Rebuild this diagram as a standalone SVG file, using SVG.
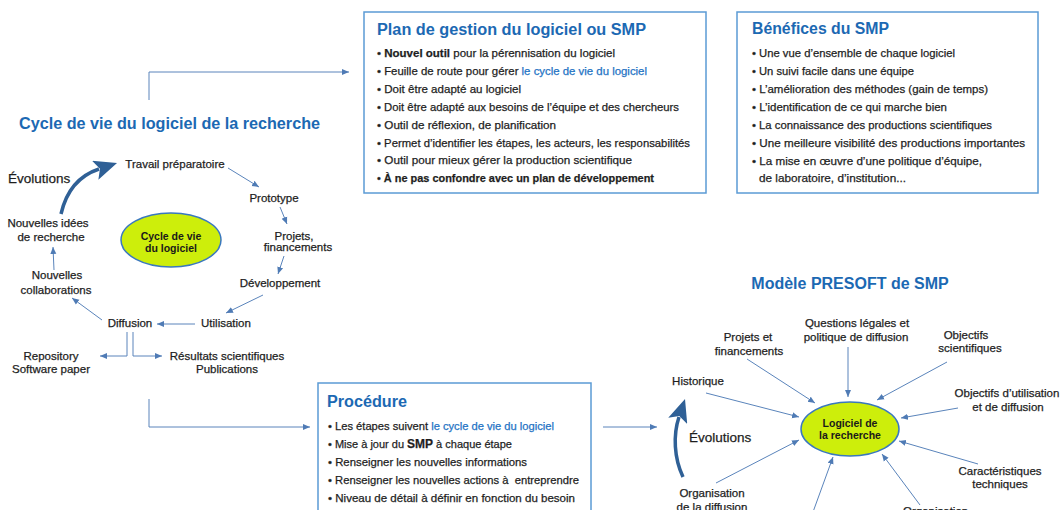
<svg xmlns="http://www.w3.org/2000/svg" width="1062" height="510" viewBox="0 0 1062 510">
<style>
text{font-family:"Liberation Sans",Arial,sans-serif;font-size:11.5px;fill:#1e1e1e;stroke:#1e1e1e;stroke-width:0.25}
.h{font-weight:bold;font-size:16px;fill:#1c69b3;stroke:none}
.m{text-anchor:middle}
.b{font-weight:bold}
.lnk{fill:#2473c4;stroke:#2473c4}
.evt{font-size:13.5px}
.et{font-weight:bold;font-size:10.5px;text-anchor:middle;fill:#1a1a1a;stroke:none}
.box{fill:#fff;stroke:#5b9bd5;stroke-width:1.5}
.con{fill:none;stroke:#5a84bb;stroke-width:1}
.evo{fill:none;stroke:#2f6096;stroke-width:3.5}
.ell{fill:#cdee0b;stroke:#3a78be;stroke-width:1.5}
</style>
<defs>
<marker id="a" markerUnits="userSpaceOnUse" markerWidth="8" markerHeight="8" refX="7" refY="3.5" orient="auto"><path d="M0,0.5 L7,3.5 L0,6.5 z" fill="#4f7bb5"/></marker>
<marker id="big" markerUnits="userSpaceOnUse" markerWidth="24" markerHeight="20" refX="4" refY="10" orient="auto"><path d="M0,0 L23,10 L0,20 L5,10 z" fill="#2f6096"/></marker>
</defs>
<rect width="1062" height="510" fill="#fff"/>

<g id="connectors">
<path class="con" d="M149,100 V72 H349" marker-end="url(#a)"/>
<path class="con" d="M149,399 V427 H310" marker-end="url(#a)"/>
<path class="con" d="M603,427 H657" marker-end="url(#a)"/>
<path class="con" d="M228,168 L259,187" marker-end="url(#a)"/>
<path class="con" d="M280,207 L287,224" marker-end="url(#a)"/>
<path class="con" d="M284,256 L278,274" marker-end="url(#a)"/>
<path class="con" d="M263,295 L226,313" marker-end="url(#a)"/>
<path class="con" d="M195,324 L157,324" marker-end="url(#a)"/>
<path class="con" d="M102,320 L72,298" marker-end="url(#a)"/>
<path class="con" d="M54,270 L53,247" marker-end="url(#a)"/>
<path class="con" d="M127,332 V356 H100" marker-end="url(#a)"/>
<path class="con" d="M133,332 V356 H162" marker-end="url(#a)"/>
<path class="evo" d="M61,214 C66,192 78,176 99,169" marker-end="url(#big)"/>
<path class="con" d="M747,359 L815,403" marker-end="url(#a)"/>
<path class="con" d="M848,347 L848,397" marker-end="url(#a)"/>
<path class="con" d="M947,362 L877,400" marker-end="url(#a)"/>
<path class="con" d="M706,393 L799,417" marker-end="url(#a)"/>
<path class="con" d="M958,408 L901,418" marker-end="url(#a)"/>
<path class="con" d="M978,464 L899,441" marker-end="url(#a)"/>
<path class="con" d="M716,483 L799,440" marker-end="url(#a)"/>
<path class="con" d="M920,505 L882,454" marker-end="url(#a)"/>
<path class="con" d="M813,512 L833,457" marker-end="url(#a)"/>
<path class="evo" d="M683,477 C674,458 673,435 679,417" marker-end="url(#big)"/>
</g>

<g id="smp-plan">
<rect class="box" x="364" y="12" width="342" height="181"/>
<text class="h" x="377" y="35" textLength="269" lengthAdjust="spacingAndGlyphs">Plan de gestion du logiciel ou SMP</text>
<text x="377" y="57" textLength="238" lengthAdjust="spacingAndGlyphs">• <tspan class="b">Nouvel outil</tspan> pour la pérennisation du logiciel</text>
<text x="377" y="75" textLength="270" lengthAdjust="spacingAndGlyphs">• Feuille de route pour gérer <tspan class="lnk">le cycle de vie du logiciel</tspan></text>
<text x="377" y="93" textLength="144" lengthAdjust="spacingAndGlyphs">• Doit être adapté au logiciel</text>
<text x="377" y="111" textLength="302" lengthAdjust="spacingAndGlyphs">• Doit être adapté aux besoins de l’équipe et des chercheurs</text>
<text x="377" y="129" textLength="179" lengthAdjust="spacingAndGlyphs">• Outil de réflexion, de planification</text>
<text x="377" y="147" textLength="313" lengthAdjust="spacingAndGlyphs">• Permet d’identifier les étapes, les acteurs, les responsabilités</text>
<text x="377" y="164" textLength="255" lengthAdjust="spacingAndGlyphs">• Outil pour mieux gérer la production scientifique</text>
<text x="377" y="182" textLength="277" lengthAdjust="spacingAndGlyphs">• <tspan class="b">À ne pas confondre avec un plan de développement</tspan></text>
</g>

<g id="benefices">
<rect class="box" x="737" y="12" width="301" height="181"/>
<text class="h" x="752" y="34" textLength="137" lengthAdjust="spacingAndGlyphs">Bénéfices du SMP</text>
<text x="752" y="57" textLength="203" lengthAdjust="spacingAndGlyphs">• Une vue d’ensemble de chaque logiciel</text>
<text x="752" y="75" textLength="162" lengthAdjust="spacingAndGlyphs">• Un suivi facile dans une équipe</text>
<text x="752" y="93" textLength="236" lengthAdjust="spacingAndGlyphs">• L’amélioration des méthodes (gain de temps)</text>
<text x="752" y="111" textLength="195" lengthAdjust="spacingAndGlyphs">• L’identification de ce qui marche bien</text>
<text x="752" y="129" textLength="240" lengthAdjust="spacingAndGlyphs">• La connaissance des productions scientifiques</text>
<text x="752" y="147" textLength="273" lengthAdjust="spacingAndGlyphs">• Une meilleure visibilité des productions importantes</text>
<text x="752" y="165" textLength="230" lengthAdjust="spacingAndGlyphs">• La mise en œuvre d’une politique d’équipe,</text>
<text x="759" y="182" textLength="147" lengthAdjust="spacingAndGlyphs">de laboratoire, d’institution...</text>
</g>

<g id="procedure">
<rect class="box" x="318" y="383" width="273" height="135"/>
<text class="h" x="327" y="407" textLength="80" lengthAdjust="spacingAndGlyphs">Procédure</text>
<text x="328" y="430" textLength="226" lengthAdjust="spacingAndGlyphs">• Les étapes suivent <tspan class="lnk">le cycle de vie du logiciel</tspan></text>
<text x="328" y="448" textLength="184" lengthAdjust="spacingAndGlyphs">• Mise à jour du <tspan class="b" style="font-size:12.5px">SMP</tspan> à chaque étape</text>
<text x="328" y="466" textLength="199" lengthAdjust="spacingAndGlyphs">• Renseigner les nouvelles informations</text>
<text x="328" y="484" textLength="251" lengthAdjust="spacingAndGlyphs">• Renseigner les nouvelles actions à&#160; entreprendre</text>
<text x="328" y="502" textLength="247" lengthAdjust="spacingAndGlyphs">• Niveau de détail à définir en fonction du besoin</text>
</g>

<g id="cycle-title"><text class="h" x="19" y="129" textLength="301" lengthAdjust="spacingAndGlyphs">Cycle de vie du logiciel de la recherche</text></g>
<g id="cycle-center">
<ellipse class="ell" cx="171" cy="240" rx="50" ry="27"/>
<text class="et" x="171" y="240">Cycle de vie</text>
<text class="et" x="171" y="252">du logiciel</text>
</g>
<g id="travail"><text class="m" x="175" y="168">Travail préparatoire</text></g>
<g id="prototype"><text class="m" x="274" y="202">Prototype</text></g>
<g id="projets"><text class="m" x="294" y="240">Projets,</text><text class="m" x="298" y="251">financements</text></g>
<g id="developpement"><text class="m" x="280" y="287">Développement</text></g>
<g id="utilisation"><text class="m" x="226" y="327">Utilisation</text></g>
<g id="diffusion"><text class="m" x="130" y="327">Diffusion</text></g>
<g id="collaborations"><text class="m" x="57" y="279">Nouvelles</text><text class="m" x="56" y="294">collaborations</text></g>
<g id="idees"><text class="m" x="48" y="227">Nouvelles idées</text><text class="m" x="51" y="241">de recherche</text></g>
<g id="evolutions-left"><text class="evt" x="8" y="183">Évolutions</text></g>
<g id="repository"><text class="m" x="51" y="360">Repository</text><text class="m" x="51" y="373">Software paper</text></g>
<g id="resultats"><text class="m" x="227" y="360">Résultats scientifiques</text><text class="m" x="227" y="373">Publications</text></g>

<g id="presoft-title"><text class="h m" x="850" y="289">Modèle PRESOFT de SMP</text></g>
<g id="presoft-center">
<ellipse class="ell" cx="850" cy="429" rx="49" ry="27"/>
<text class="et" x="850" y="427">Logiciel de</text>
<text class="et" x="850" y="439">la recherche</text>
</g>
<g id="questions"><text class="m" x="857" y="327">Questions légales et</text><text class="m" x="856" y="341">politique de diffusion</text></g>
<g id="projets-fin"><text class="m" x="748" y="341">Projets et</text><text class="m" x="749" y="355">financements</text></g>
<g id="obj-sci"><text class="m" x="966" y="339">Objectifs</text><text class="m" x="970" y="352">scientifiques</text></g>
<g id="historique"><text class="m" x="698" y="385">Historique</text></g>
<g id="obj-util"><text class="m" x="1007" y="397">Objectifs d’utilisation</text><text class="m" x="1008" y="411">et de diffusion</text></g>
<g id="caracteristiques"><text class="m" x="1000" y="475">Caractéristiques</text><text class="m" x="1000" y="488">techniques</text></g>
<g id="organisation"><text class="m" x="712" y="497">Organisation</text><text class="m" x="712" y="511">de la diffusion</text></g>
<g id="organisation2"><text x="903" y="515">Organisation</text></g>
<g id="evolutions-right"><text class="evt" x="689" y="442">Évolutions</text></g>
</svg>
